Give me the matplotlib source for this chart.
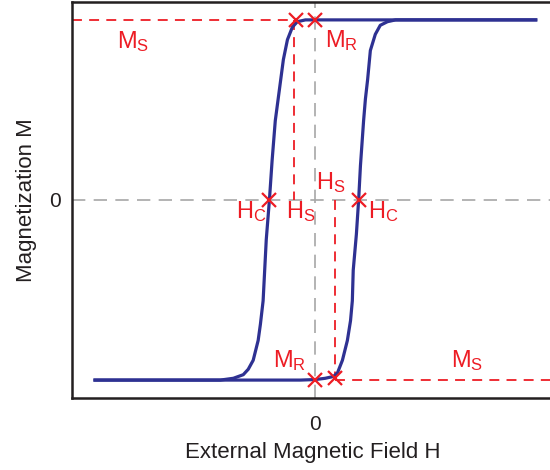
import matplotlib
matplotlib.use("Agg")
import matplotlib.pyplot as plt

plt.rcParams['font.family'] = ['Liberation Sans', 'DejaVu Sans']
plt.rcParams['mathtext.fontset'] = 'custom'
plt.rcParams['mathtext.rm'] = 'Liberation Sans'
plt.rcParams['mathtext.it'] = 'Liberation Sans'

# Descending branch (from +saturation to -saturation)
desc_H = [4.89, 1.89, -0.22, -0.40, -0.51, -0.62, -0.71, -0.80, -0.89, -0.96, -1.02,
          -1.09, -1.16, -1.22, -1.27, -1.38, -1.49, -1.60, -1.82, -2.11, -4.89]
desc_M = [1.00, 1.00, 1.00, 0.99, 0.96, 0.89, 0.78, 0.61, 0.44, 0.22, 0.00,
          -0.22, -0.56, -0.69, -0.78, -0.89, -0.94, -0.97, -0.99, -1.00, -1.00]
# Ascending branch (from -saturation to +saturation)
asc_H = [-4.89, -0.33, 0.00, 0.22, 0.40, 0.49, 0.60, 0.71, 0.78, 0.82, 0.84, 0.91,
         0.96, 1.00, 1.07, 1.11, 1.16, 1.22, 1.33, 1.44, 1.60, 1.78, 4.89]
asc_M = [-1.00, -1.00, -0.997, -0.99, -0.98, -0.96, -0.89, -0.78, -0.67, -0.56, -0.39, -0.19,
         0.00, 0.19, 0.44, 0.56, 0.67, 0.83, 0.92, 0.97, 0.99, 1.00, 1.00]

# Marked points
mark_H = [-0.44, 0.00, -1.02, 0.96, 0.00, 0.44]
mark_M = [1.00, 1.00, 0.00, 0.00, -1.00, -0.99]

Ms = 1.0
Hs_left = -0.47
Hs_right = 0.44

labels = [r'$\mathregular{M_S}$', r'$\mathregular{M_R}$', r'$\mathregular{H_C}$', r'$\mathregular{H_S}$',
          r'$\mathregular{H_S}$', r'$\mathregular{H_C}$', r'$\mathregular{M_R}$', r'$\mathregular{M_S}$']
label_H = [-4.40, 0.22, -1.76, -0.66, 0.02, 1.16, -0.95, 3.02]
label_M = [0.844, 0.85, -0.10, -0.10, 0.061, -0.10, -0.928, -0.928]

RED = '#ed1c24'
BLUE = '#2e3192'
GRAY = '#a7a7a7'
DARK = '#231f20'

fig = plt.figure(figsize=(5.5, 4.7), dpi=100)
ax = fig.add_axes([0.131, 0.153, 0.875, 0.843])
xlim = (-5.4, 5.28)
ylim = (-1.1, 1.1)
ax.set_xlim(*xlim)
ax.set_ylim(*ylim)

# zero guide lines
ax.axhline(0, color=GRAY, lw=1.2, ls=(0, (8, 5)), zorder=1)
ax.axvline(0, color=GRAY, lw=1.2, ls=(0, (8, 5)), zorder=1)

# red guide lines
dash = (0, (5.5, 4))
ax.plot([xlim[0], Hs_left], [Ms, Ms], color=RED, lw=1.3, ls=dash, zorder=2)
ax.plot([Hs_right, xlim[1]], [-Ms, -Ms], color=RED, lw=1.3, ls=dash, zorder=2)
ax.plot([Hs_left, Hs_left], [Ms, 0], color=RED, lw=1.3, ls=dash, zorder=2)
ax.plot([Hs_right, Hs_right], [0, -Ms], color=RED, lw=1.3, ls=dash, zorder=2)

# curves
ax.plot(desc_H, desc_M, color=BLUE, lw=2.3, solid_joinstyle='round', zorder=3)
ax.plot(asc_H, asc_M, color=BLUE, lw=2.3, solid_joinstyle='round', zorder=3)

# markers
ax.plot(mark_H, mark_M, ls='none', marker='x', ms=10, mew=1.6, color=RED, zorder=4)

for t, h, m in zip(labels, label_H, label_M):
    ax.text(h, m, t, color=RED, fontsize=17, ha='left', va='baseline', zorder=5)

ax.set_xticks([0])
ax.set_yticks([0])
ax.set_xticklabels(['0'])
ax.set_yticklabels(['0'])
ax.tick_params(axis='both', length=0, labelsize=15, colors=DARK)
ax.tick_params(axis='x', pad=12)
ax.tick_params(axis='y', pad=8)
for s in ax.spines.values():
    s.set_color(DARK)
    s.set_linewidth(1.8)

ax.set_xlabel('External Magnetic Field H', fontsize=16, color=DARK, labelpad=6)
ax.set_ylabel('Magnetization M', fontsize=16, color=DARK, labelpad=9)

fig.savefig('out.png', dpi=100)
